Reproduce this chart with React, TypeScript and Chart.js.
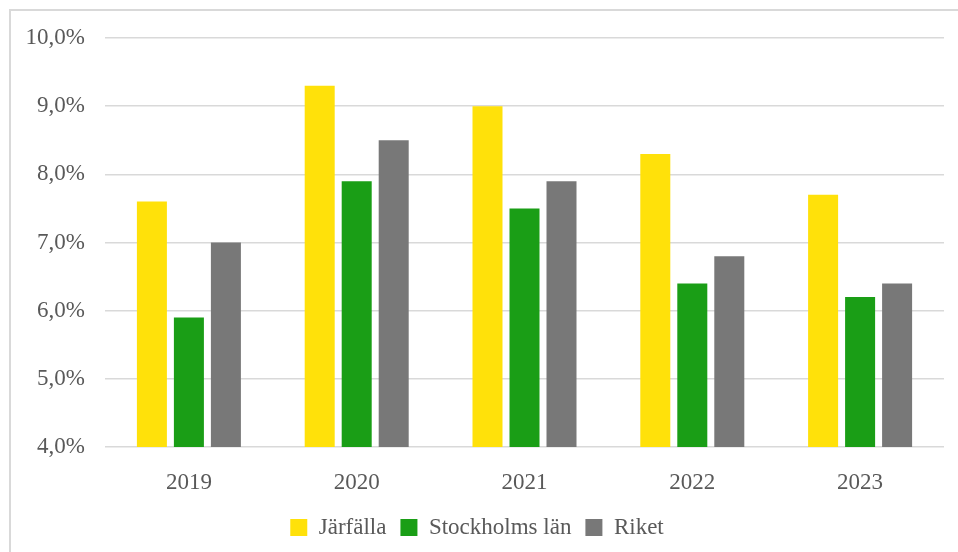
import React, { useEffect, useRef } from "react";
import { Chart, registerables } from "chart.js";

Chart.register(...registerables);

const categories = ["2019", "2020", "2021", "2022", "2023"];
const jarfalla = [7.6, 9.3, 9.0, 8.3, 7.7];
const stockholmsLan = [5.9, 7.9, 7.5, 6.4, 6.2];
const riket = [7.0, 8.5, 7.9, 6.8, 6.4];
const seriesNames = ["Järfälla", "Stockholms län", "Riket"];
const yMin = 4;
const yMax = 10;
const yStep = 1;

const FONT = "'Times New Roman', 'Liberation Serif', serif";
const TEXT = "#595959";

const frame = {
  id: "frame",
  beforeDraw(chart: any) {
    const ctx = chart.ctx;
    ctx.save();
    ctx.fillStyle = "#ffffff";
    ctx.fillRect(0, 0, chart.width, chart.height);
    ctx.strokeStyle = "#d9d9d9";
    ctx.lineWidth = 2;
    ctx.strokeRect(10, 10, 1000, 1000);
    ctx.restore();
  },
};

export default function App() {
  const ref = useRef<HTMLCanvasElement>(null);
  useEffect(() => {
    if (!ref.current) return;
    const chart = new Chart(ref.current, {
      type: "bar",
      data: {
        labels: categories,
        datasets: [
          { label: seriesNames[0], data: jarfalla, backgroundColor: "#FFE10A" },
          { label: seriesNames[1], data: stockholmsLan, backgroundColor: "#1A9E16" },
          { label: seriesNames[2], data: riket, backgroundColor: "#787878" },
        ],
      },
      options: {
        responsive: false,
        animation: false,
        layout: { padding: { left: 10, right: 14, top: 38, bottom: 3 } },
        datasets: { bar: { categoryPercentage: 0.6615, barPercentage: 0.811 } },
        scales: {
          x: {
            grid: { display: false },
            border: { display: false },
            ticks: { color: TEXT, font: { family: FONT, size: 23 }, padding: 14 },
            afterFit: (s: any) => { s.height = 55; },
          },
          y: {
            min: yMin,
            max: yMax,
            grid: { color: "#d9d9d9", lineWidth: 1.5, drawTicks: false },
            border: { display: false },
            ticks: {
              stepSize: yStep,
              color: TEXT,
              font: { family: FONT, size: 23 },
              padding: 20,
              callback: (v: any) => Number(v).toFixed(1).replace(".", ",") + "%",
            },
            afterFit: (s: any) => { s.width = 95; },
          },
        },
        plugins: {
          legend: {
            position: "bottom",
            labels: {
              color: TEXT,
              font: { family: FONT, size: 23 },
              boxWidth: 17,
              boxHeight: 17,
              padding: 14,
            },
          },
          tooltip: { enabled: false },
        },
      },
      plugins: [frame],
    });
    return () => chart.destroy();
  }, []);
  return (
    <canvas
      ref={ref}
      width={958}
      height={552}
      style={{ position: "fixed", left: 0, top: 0, display: "block" }}
    />
  );
}
